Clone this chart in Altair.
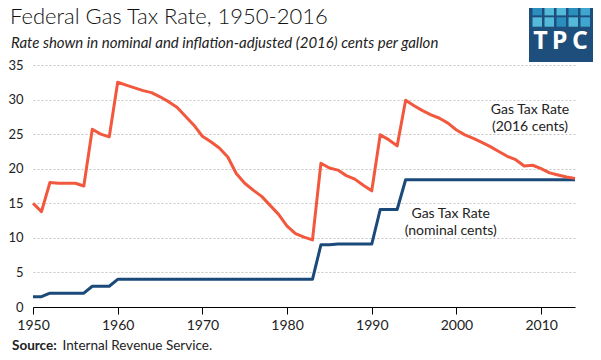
import altair as alt
import pandas as pd

# ---- data ----
years = list(range(1950, 2015))
nominal_cents = [
    1.5, 1.5, 2, 2, 2, 2, 2, 3, 3, 3,            # 1950-1959
    4, 4, 4, 4, 4, 4, 4, 4, 4, 4,                # 1960-1969
    4, 4, 4, 4, 4, 4, 4, 4, 4, 4,                # 1970-1979
    4, 4, 4, 4, 9, 9, 9.1, 9.1, 9.1, 9.1,        # 1980-1989
    9.1, 14.1, 14.1, 14.1, 18.4, 18.4, 18.4, 18.4, 18.4, 18.4,  # 1990-1999
    18.4, 18.4, 18.4, 18.4, 18.4, 18.4, 18.4, 18.4, 18.4, 18.4,  # 2000-2009
    18.4, 18.4, 18.4, 18.4, 18.4,                # 2010-2014
]
real_2016_cents = [
    15.0, 13.8, 18.0, 17.9, 17.9, 17.9, 17.5, 25.7, 25.0, 24.6,  # 1950-1959
    32.5, 32.1, 31.7, 31.3, 31.0, 30.4, 29.7, 28.9, 27.6, 26.3,  # 1960-1969
    24.7, 23.9, 23.0, 21.7, 19.3, 17.9, 16.9, 16.0, 14.7, 13.4,  # 1970-1979
    11.7, 10.6, 10.1, 9.7, 20.8, 20.1, 19.8, 19.0, 18.5, 17.6,   # 1980-1989
    16.8, 24.9, 24.2, 23.3, 29.9, 29.1, 28.4, 27.8, 27.3, 26.6,  # 1990-1999
    25.6, 24.9, 24.4, 23.8, 23.2, 22.5, 21.8, 21.3, 20.4, 20.5,  # 2000-2009
    20.0, 19.4, 19.1, 18.8, 18.6,                                # 2010-2014
]
x_ticks = [1950, 1960, 1970, 1980, 1990, 2000, 2010]
y_ticks = [0, 5, 10, 15, 20, 25, 30, 35]

title_text = "Federal Gas Tax Rate, 1950-2016"
subtitle_text = "Rate shown in nominal and inflation-adjusted (2016) cents per gallon"
label_real = "Gas Tax Rate\n(2016 cents)"
label_nominal = "Gas Tax Rate\n(nominal cents)"
source_bold = "Source:"
source_rest = "Internal Revenue Service."

ORANGE = "#F2583E"
NAVY = "#1B4A7A"
FONT = "Lato"

nominal_df = pd.DataFrame({"year": years, "value": nominal_cents})
real_df = pd.DataFrame({"year": years, "value": real_2016_cents})
one = pd.DataFrame({"k": [0]})

x_enc = alt.X(
    "year:Q",
    scale=alt.Scale(domain=[1950, 2014], nice=False, zero=False),
    axis=alt.Axis(
        values=x_ticks, format="d", title=None, grid=False,
        labelFont=FONT, labelFontSize=14, labelColor="#222",
        domainColor="#000", domainWidth=1.2, tickColor="#000", tickSize=7,
        labelPadding=4, labelFlush=False, labelOverlap=False,
    ),
)
y_enc = alt.Y(
    "value:Q",
    scale=alt.Scale(domain=[0, 35], nice=False),
    axis=alt.Axis(
        values=y_ticks, title=None, domain=False, ticks=False,
        grid=True, gridColor="#c4c4c4", gridDash=[2, 2], gridWidth=1,
        labelFont=FONT, labelFontSize=13, labelColor="#222", labelPadding=10,
        labelOverlap=False, labelFlush=False,
    ),
)

nominal_line = alt.Chart(nominal_df).mark_line(
    color=NAVY, strokeWidth=3, strokeJoin="round"
).encode(x=x_enc, y=y_enc)

real_line = alt.Chart(real_df).mark_line(
    color=ORANGE, strokeWidth=3, strokeJoin="round"
).encode(x=x_enc, y=y_enc)


def text_layer(txt, x, y, size, **kw):
    return alt.Chart(one).mark_text(
        text=txt, font=kw.pop("font", FONT), fontSize=size, align=kw.pop("align", "left"),
        baseline="alphabetic", **kw
    ).encode(x=alt.value(x), y=alt.value(y))


layers = [nominal_line, real_line]

layers.append(text_layer(title_text, -23, -41.5, 22, color="#111", fontWeight=300))
layers.append(text_layer(subtitle_text, -22, -16.7, 15, color="#222", fontStyle="italic"))
layers.append(text_layer(label_real, 497, 49.3, 14, color="#222", align="center",
                         lineBreak="\n", lineHeight=17))
layers.append(text_layer(label_nominal, 417.7, 153.3, 14, color="#222", align="center",
                         lineBreak="\n", lineHeight=17))
layers.append(text_layer(source_bold, -21, 284.5, 13.5, color="#222", fontWeight="bold"))
layers.append(text_layer(source_rest, 29.5, 284.5, 13.5, color="#222"))

# ---- TPC logo (decoration) ----
logo_bg = alt.Chart(one).mark_rect(color="#1D4E7C").encode(
    x=alt.value(496), x2=alt.value(562), y=alt.value(-60), y2=alt.value(-3)
)
layers.append(logo_bg)
sq_colors = [
    ["#2A8FBD", "#55B9DA", "#55B9DA", "#2A8FBD", "#3FA7CF"],
    ["#55B9DA", "#55B9DA", "#2A8FBD", "#55B9DA", "#3FA7CF"],
]
col_x = [499.5, 511.5, 523.5, 535.5, 547.5]
row_y = [-59, -47.7]
for r in range(2):
    for c in range(5):
        layers.append(
            alt.Chart(one).mark_rect(color=sq_colors[r][c]).encode(
                x=alt.value(col_x[c]), x2=alt.value(col_x[c] + 9.5),
                y=alt.value(row_y[r]), y2=alt.value(row_y[r] + 9.4),
            )
        )
for letter, cx in [("T", 507.5), ("P", 526.5), ("C", 547)]:
    layers.append(text_layer(letter, cx, -16.5, 25, color="white", fontWeight="bold",
                             align="center", font="Open Sans"))

chart = alt.layer(*layers).properties(
    width=542, height=242,
    padding={"left": 25, "top": 57, "right": 18, "bottom": 45},
    autosize=alt.AutoSizeParams(type="none"),
    background="white",
).configure_view(stroke=None)

chart.save("out.html", embed_options={"renderer": "svg", "actions": False})
